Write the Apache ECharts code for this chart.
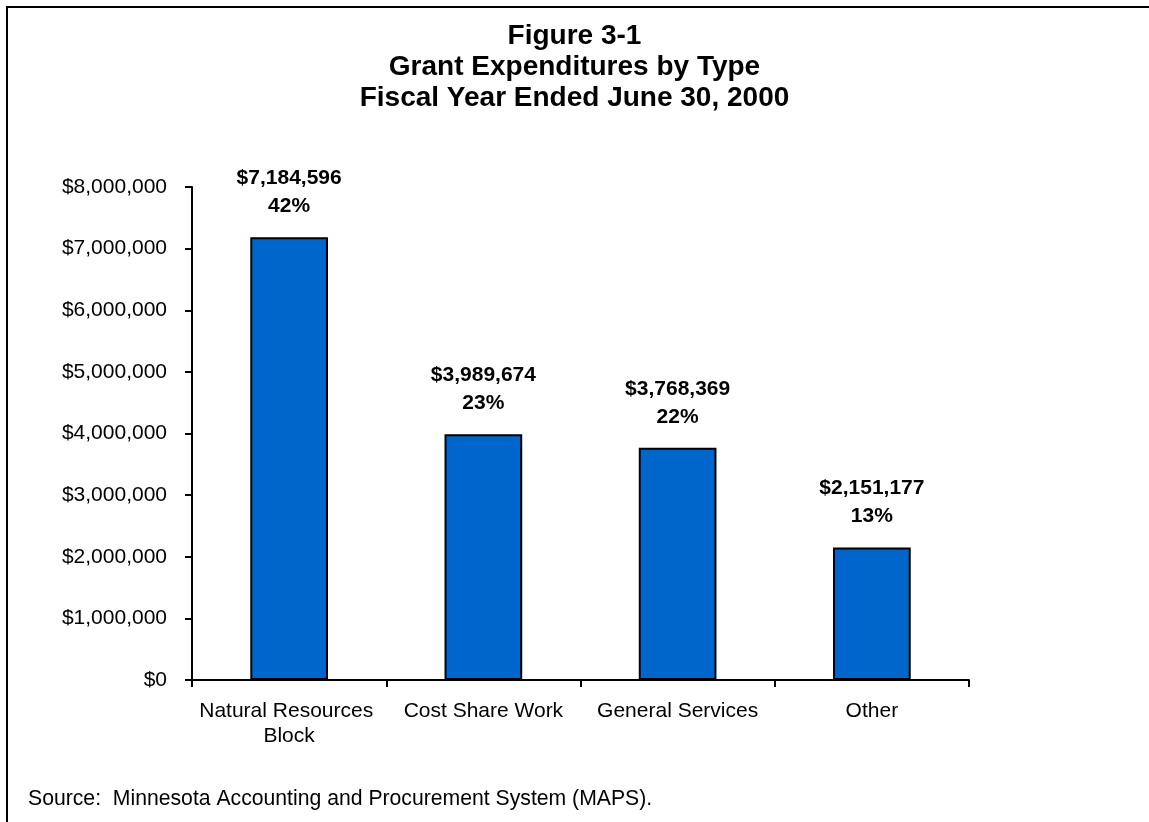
<!DOCTYPE html>
<html>
<head>
<meta charset="utf-8">
<script src="https://cdn.jsdelivr.net/npm/echarts@6/dist/echarts.min.js"></script>
<style>
html,body{margin:0;padding:0;background:#fff;}
#c{width:1149px;height:822px;}
</style>
</head>
<body>
<div id="c"></div>
<script>
var categories = ['Natural Resources Block', 'Cost Share Work', 'General Services', 'Other'];
var amounts = [7184596, 3989674, 3768369, 2151177];
var percents = [42, 23, 22, 13];
var yTicks = {min: 0, max: 8000000, interval: 1000000};
var titleLines = ['Figure 3-1', 'Grant Expenditures by Type', 'Fiscal Year Ended June 30, 2000'];
var sourceText = 'Source:  Minnesota Accounting and Procurement System (MAPS).';

function commas(n){
  var s = String(Math.round(n));
  return s.replace(/\B(?=(\d{3})+(?!\d))/g, ',');
}

var FONT = '"Liberation Sans", Arial, sans-serif';
var chart = echarts.init(document.getElementById('c'), null, {renderer: 'canvas'});
chart.setOption({
  backgroundColor: '#ffffff',
  animation: false,
  textStyle: {fontFamily: FONT, color: '#000'},
  title: {
    text: titleLines.join('\n'),
    left: 'center',
    top: 21,
    padding: 0,
    textStyle: {fontFamily: FONT, fontSize: 28, fontWeight: 'bold', color: '#000', lineHeight: 31}
  },
  graphic: [
    {type: 'rect', shape: {x: 7, y: 7, width: 1300, height: 1000}, style: {fill: 'none', stroke: '#000', lineWidth: 2}, silent: true, z: -1},
    {type: 'text', left: 28, top: 789, style: {text: sourceText, font: '21.2px "Liberation Sans", Arial, sans-serif', fill: '#000'}}
  ],
  grid: {left: 192, right: 180, top: 187, bottom: 142},
  xAxis: {
    type: 'category',
    data: categories,
    boundaryGap: true,
    axisLine: {lineStyle: {color: '#000', width: 2}},
    axisTick: {show: true, alignWithLabel: false, length: 7, lineStyle: {color: '#000', width: 2}},
    axisLabel: {
      color: '#000', fontSize: 21, fontFamily: FONT, margin: 19, lineHeight: 25,
      width: 190, overflow: 'break', interval: 0, align: 'center'
    }
  },
  yAxis: {
    type: 'value',
    min: yTicks.min, max: yTicks.max, interval: yTicks.interval,
    splitLine: {show: false},
    axisLine: {show: true, lineStyle: {color: '#000', width: 2}},
    axisTick: {show: true, length: 7, lineStyle: {color: '#000', width: 2}},
    axisLabel: {color: '#000', fontSize: 21, fontFamily: FONT, margin: 25,
      formatter: function(v){ return '$' + commas(v); }}
  },
  series: [{
    type: 'bar',
    data: amounts,
    barWidth: '40%',
    itemStyle: {color: '#0066CC', borderColor: '#000', borderWidth: 2},
    label: {
      show: true, position: 'top', distance: 17,
      fontFamily: FONT, fontSize: 21, fontWeight: 'bold', color: '#000', lineHeight: 28,
      formatter: function(p){ return '$' + commas(p.value) + '\n' + percents[p.dataIndex] + '%'; }
    }
  }]
});
</script>
</body>
</html>
